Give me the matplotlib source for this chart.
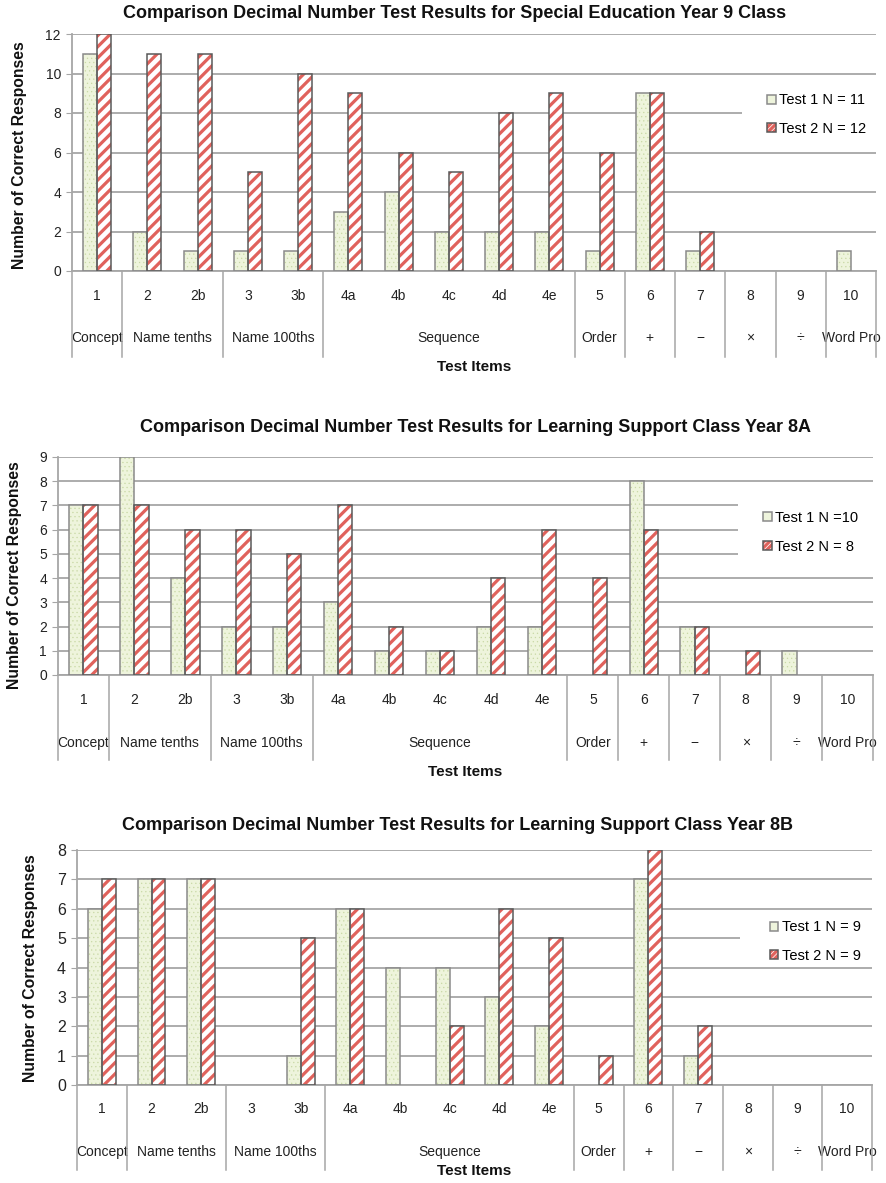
import matplotlib
matplotlib.use('Agg')
import matplotlib.pyplot as plt
from matplotlib.lines import Line2D
from matplotlib.patches import Rectangle
from matplotlib.legend_handler import HandlerTuple
import numpy as np

# ---- data ----
items = ['1', '2', '2b', '3', '3b', '4a', '4b', '4c', '4d', '4e', '5', '6', '7', '8', '9', '10']
groups = ['Concept', 'Name tenths', 'Name 100ths', 'Sequence', 'Order', '+', '\u2212', '\u00d7', '\u00f7', 'Word Pro']
group_sizes = [1, 2, 2, 5, 1, 1, 1, 1, 1, 1]

y9_test1 = [11, 2, 1, 1, 1, 3, 4, 2, 2, 2, 1, 9, 1, 0, 0, 1]
y9_test2 = [12, 11, 11, 5, 10, 9, 6, 5, 8, 9, 6, 9, 2, 0, 0, 0]

y8a_test1 = [7, 9, 4, 2, 2, 3, 1, 1, 2, 2, 0, 8, 2, 0, 1, 0]
y8a_test2 = [7, 7, 6, 6, 5, 7, 2, 1, 4, 6, 4, 6, 2, 1, 0, 0]

y8b_test1 = [6, 7, 7, 0, 1, 6, 4, 4, 3, 2, 0, 7, 1, 0, 0, 0]
y8b_test2 = [7, 7, 7, 0, 5, 6, 0, 2, 6, 5, 1, 8, 2, 0, 0, 0]

titles = ['Comparison Decimal Number Test Results for Special Education Year 9 Class',
          'Comparison Decimal Number Test Results for Learning Support Class Year 8A',
          'Comparison Decimal Number Test Results for Learning Support Class Year 8B']
legend_labels = [('Test 1 N = 11', 'Test 2 N = 12'),
                 ('Test 1 N =10', 'Test 2 N = 8'),
                 ('Test 1 N = 9', 'Test 2 N = 9')]

W, H = 886, 1183
plt.rcParams['font.family'] = ['Liberation Sans', 'DejaVu Sans']
plt.rcParams['hatch.linewidth'] = 2.3
fig = plt.figure(figsize=(W / 100, H / 100), dpi=100)

GRID = '#a6a6a6'
T1_FACE = '#eef4dc'
T1_EDGE = '#8a8a8a'
T2_STRIPE = '#e0625c'
T2_EDGE = '#5a5a5a'
NARROW = ['Liberation Sans Narrow', 'Liberation Sans', 'DejaVu Sans']


def fx(x):
    return x / W


def fy(y):
    return 1 - y / H


# layout per chart (pixel coords): axes left, right, top, bottom
layouts = [
    dict(l=72, r=876, t=34, b=271, ymax=12, step=2, tick_fs=10,
         title_xy=(455, 14), ylab_xy=(20, 155),
         off_item=18, off_group=48, off_sep=62, off_xlab=69,
         leg_anchor=(0.857, 0.66), white=(0.833, 0.553, 0.764)),
    dict(l=58, r=873, t=457, b=675, ymax=9, step=1, tick_fs=10,
         title_xy=(475, 427), ylab_xy=(15, 575),
         off_item=18, off_group=49, off_sep=61, off_xlab=70,
         leg_anchor=(0.858, 0.655), white=(0.834, 0.518, 0.817)),
    dict(l=77, r=872, t=850, b=1085, ymax=8, step=1, tick_fs=11.5,
         title_xy=(458, 825), ylab_xy=(30, 968),
         off_item=17, off_group=48, off_sep=61, off_xlab=62,
         leg_anchor=(0.864, 0.61), white=(0.834, 0.506, 0.736)),
]
series = [(y9_test1, y9_test2), (y8a_test1, y8a_test2), (y8b_test1, y8b_test2)]

x = np.arange(len(items))
bw = 0.28

for k, lay in enumerate(layouts):
    t1 = np.array(series[k][0])
    t2 = np.array(series[k][1])
    ax = fig.add_axes([fx(lay['l']), fy(lay['b']), fx(lay['r'] - lay['l']), (lay['b'] - lay['t']) / H])
    ax.set_xlim(-0.5, len(items) - 0.5)
    ax.set_ylim(0, lay['ymax'])
    ax.set_yticks(np.arange(0, lay['ymax'] + 1, lay['step']))
    ax.yaxis.grid(True, color=GRID, linewidth=1.3)
    ax.set_axisbelow(True)
    for s in ['top', 'right']:
        ax.spines[s].set_visible(False)
    for s in ['left', 'bottom']:
        ax.spines[s].set_color(GRID)
        ax.spines[s].set_linewidth(1.3)
    ax.set_xticks([])
    ax.tick_params(axis='y', length=4, color=GRID, labelsize=lay['tick_fs'], pad=4, labelcolor='#222222')

    # white patch behind the legend that breaks the gridlines
    wx, wy0, wy1 = lay['white']
    ax.add_patch(Rectangle((wx, wy0), 1 - wx, wy1 - wy0, transform=ax.transAxes,
                           facecolor='white', edgecolor='none', zorder=1))

    m1 = t1 > 0
    m2 = t2 > 0
    # test 1: pale green dotted
    with plt.rc_context({'hatch.linewidth': 0.4}):
        ax.bar(x[m1] - bw / 2, t1[m1], bw, facecolor=T1_FACE, edgecolor='#c9d9a6', hatch='....',
               linewidth=0, zorder=2)
    ax.bar(x[m1] - bw / 2, t1[m1], bw, facecolor='none', edgecolor=T1_EDGE, linewidth=1.1, zorder=3)
    # test 2: red diagonal stripes
    ax.bar(x[m2] + bw / 2, t2[m2], bw, facecolor='white', edgecolor=T2_STRIPE, hatch='///',
           linewidth=0, zorder=2)
    ax.bar(x[m2] + bw / 2, t2[m2], bw, facecolor='none', edgecolor=T2_EDGE, linewidth=1.1, zorder=3)

    # legend handles
    h1 = Rectangle((0, 0), 1, 1, facecolor=T1_FACE, edgecolor=T1_EDGE, linewidth=1.1)
    with plt.rc_context({'hatch.linewidth': 1.3}):
        h2a = Rectangle((0, 0), 1, 1, facecolor='white', edgecolor=T2_STRIPE, hatch='//////', linewidth=0)
    h2b = Rectangle((0, 0), 1, 1, facecolor='none', edgecolor=T2_EDGE, linewidth=1.1)
    leg = ax.legend([h1, (h2a, h2b)], legend_labels[k], loc='center left', bbox_to_anchor=lay['leg_anchor'],
                    frameon=False, fontsize=10.5, handlelength=0.6, handleheight=0.6, handletextpad=0.25,
                    labelspacing=1.0, borderpad=0.4, borderaxespad=0,
                    handler_map={tuple: HandlerTuple(ndivide=1, pad=0)})
    leg.set_zorder(4)

    # two-level category axis
    trans = ax.get_xaxis_transform()
    for i, lab in enumerate(items):
        ax.annotate(lab, xy=(i, 0), xycoords=trans, xytext=(0, -lay['off_item']),
                    textcoords='offset points', ha='center', va='center',
                    fontsize=10, family=NARROW, color='#222222')
    bounds = np.concatenate([[0], np.cumsum(group_sizes)]) - 0.5
    for g, lab in enumerate(groups):
        cx = (bounds[g] + bounds[g + 1]) / 2
        ax.annotate(lab, xy=(cx, 0), xycoords=trans, xytext=(0, -lay['off_group']),
                    textcoords='offset points', ha='center', va='center',
                    fontsize=10, family=NARROW, color='#222222', annotation_clip=False)
    # separator lines below the axis
    for bx in bounds:
        px_x = lay['l'] + (bx + 0.5) * (lay['r'] - lay['l']) / len(items)
        fig.add_artist(Line2D([fx(px_x), fx(px_x)],
                              [fy(lay['b']), fy(lay['b'] + lay['off_sep'] * 100 / 72)],
                              color=GRID, linewidth=1.1))
    ax.annotate('Test Items', xy=(0.5, 0), xycoords='axes fraction', xytext=(0, -lay['off_xlab']),
                textcoords='offset points', ha='center', va='center',
                fontsize=11, fontweight='bold', family=NARROW, color='#111111')

    fig.text(fx(lay['title_xy'][0]), fy(lay['title_xy'][1]), titles[k], ha='center', va='center',
             fontsize=13, fontweight='bold', color='#111111')
    fig.text(fx(lay['ylab_xy'][0]), fy(lay['ylab_xy'][1]), 'Number of Correct Responses', ha='center',
             va='center', rotation=90, fontsize=11.3, fontweight='bold', color='#111111')

fig.savefig('out.png', dpi=100, facecolor='white')
